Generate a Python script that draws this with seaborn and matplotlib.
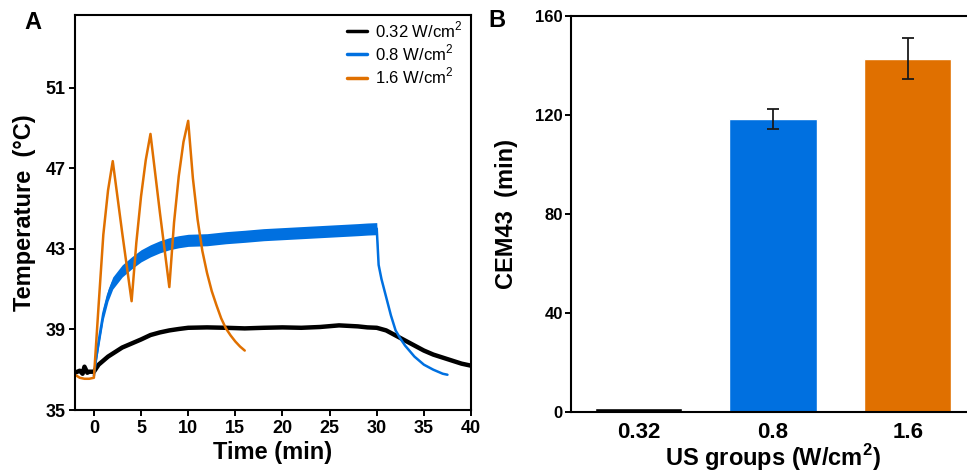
import matplotlib
matplotlib.use('Agg')
from matplotlib import pyplot as plt
import seaborn as sns
import pandas as pd
import numpy as np

# ---- panel A: temperature traces ----
black_t = [-2, -1.5, -1.2, -1, -0.7, -0.5, 0, 0.5, 1, 1.5, 2, 3, 4, 5, 6, 7, 8, 9, 10, 12,
           14, 16, 18, 20, 22, 24, 26, 28, 29, 30, 31, 32, 33, 34, 35, 36, 37, 38, 39, 40]
black_T = [36.85, 36.95, 36.8, 37.15, 36.85, 36.9, 36.9, 37.25, 37.45, 37.65, 37.8, 38.1, 38.3,
           38.5, 38.72, 38.85, 38.95, 39.02, 39.08, 39.1, 39.08, 39.05, 39.08, 39.1, 39.08,
           39.12, 39.2, 39.15, 39.1, 39.08, 38.95, 38.7, 38.45, 38.2, 37.95, 37.75, 37.6,
           37.45, 37.3, 37.2]

blue_t = [0, 0.25, 0.5, 1, 1.5, 2, 3, 4, 5, 6, 7, 8, 9, 10, 12, 14, 16, 18, 20, 22, 24, 26,
          28, 29, 30, 30.2, 30.5, 31, 31.5, 32, 32.5, 33, 34, 35, 36, 37, 37.5]
blue_T = [36.7, 37.6, 38.4, 39.8, 40.7, 41.3, 41.9, 42.3, 42.65, 42.9, 43.1, 43.25, 43.35,
          43.42, 43.45, 43.55, 43.62, 43.7, 43.75, 43.8, 43.85, 43.9, 43.95, 43.98, 44.0,
          42.2, 41.5, 40.6, 39.7, 38.95, 38.55, 38.2, 37.65, 37.25, 37.0, 36.8, 36.75]
# half-width of the noisy band while the transducer is on
blue_noise = [0, 0.2, 0.3, 0.3, 0.3, 0.3, 0.3, 0.3, 0.3, 0.3, 0.3, 0.3, 0.3, 0.3, 0.3, 0.3,
              0.3, 0.3, 0.3, 0.3, 0.3, 0.3, 0.3, 0.3, 0.3, 0, 0, 0, 0, 0, 0, 0, 0, 0, 0, 0, 0]

orange_t = [-2, -1.5, -1, -0.5, 0, 0.5, 1, 1.5, 2, 3, 4, 4.5, 5, 5.5, 6, 7, 8, 8.5, 9, 9.5,
            10, 10.5, 11, 11.5, 12, 12.5, 13, 13.5, 14, 14.5, 15, 15.5, 16]
orange_T = [36.75, 36.6, 36.55, 36.55, 36.6, 40.2, 43.7, 45.9, 47.35, 43.8, 40.4, 43.3, 45.6,
            47.4, 48.7, 44.8, 41.1, 44.3, 46.6, 48.3, 49.35, 46.5, 44.45, 42.9, 41.8, 40.9,
            40.2, 39.55, 39.05, 38.7, 38.4, 38.15, 37.95]

series_labels = ['0.32 W/cm$^2$', '0.8 W/cm$^2$', '1.6 W/cm$^2$']

# ---- panel B: CEM43 ----
groups = ['0.32', '0.8', '1.6']
cem43 = [1.5, 118.3, 142.8]
cem43_err = [0, 4.0, 8.4]

colors = ['#000000', '#0070E0', '#E07000']

sns.set_theme(style='ticks')
plt.rcParams['font.family'] = ['Liberation Sans', 'DejaVu Sans']
plt.rcParams['mathtext.fontset'] = 'custom'
plt.rcParams['mathtext.rm'] = 'Liberation Sans'
plt.rcParams['mathtext.bf'] = 'Liberation Sans:bold'
for k in ['text.color', 'axes.labelcolor', 'xtick.color', 'ytick.color', 'axes.edgecolor']:
    plt.rcParams[k] = 'black'

fig = plt.figure(figsize=(9.67, 4.74), dpi=100)
axA = fig.add_axes([0.0776, 0.135, 0.4095, 0.8333])
axB = fig.add_axes([0.5905, 0.1308, 0.4178, 0.8354])

# panel A
sns.lineplot(x=black_t, y=black_T, ax=axA, color=colors[0], lw=3.2, label=series_labels[0],
             sort=False, estimator=None)
bt = np.array(blue_t)
bT = np.array(blue_T)
bn = np.array(blue_noise)
axA.fill_between(bt, bT - bn, bT + bn, color=colors[1], lw=0)
sns.lineplot(x=blue_t, y=blue_T, ax=axA, color=colors[1], lw=1.8, label=series_labels[1],
             sort=False, estimator=None)
sns.lineplot(x=orange_t, y=orange_T, ax=axA, color=colors[2], lw=1.8, label=series_labels[2],
             sort=False, estimator=None)

axA.set_xlim(-2, 40)
axA.set_ylim(35, 54.6)
axA.set_xticks(range(0, 41, 5))
axA.set_yticks([35, 39, 43, 47, 51])
axA.tick_params(direction='out', length=4, width=1.4, labelsize=13, pad=3)
for lab in axA.get_xticklabels() + axA.get_yticklabels():
    lab.set_fontweight('bold')
axA.set_xlabel('Time (min)', fontsize=17, fontweight='bold', labelpad=3)
axA.set_ylabel('Temperature  (°C)', fontsize=17, fontweight='bold', labelpad=7)
for s in axA.spines.values():
    s.set_linewidth(1.5)

leg = axA.legend(loc='upper right', bbox_to_anchor=(1.0, 1.01), frameon=False, fontsize=12,
                 handlelength=1.2, handletextpad=0.5, labelspacing=0.16, borderaxespad=0.1)
for h in leg.get_lines():
    h.set_linewidth(2.5)

# panel B
df_bar = pd.DataFrame({'group': groups, 'cem43': cem43})
sns.barplot(data=df_bar, x='group', y='cem43', hue='group', palette=colors, legend=False,
            errorbar=None, width=0.65, saturation=1, ax=axB)
centers = [p.get_x() + p.get_width() / 2 for p in axB.patches]
keep = [i for i, e in enumerate(cem43_err) if e > 0]
axB.errorbar([centers[i] for i in keep], [cem43[i] for i in keep],
             yerr=[cem43_err[i] for i in keep], fmt='none', ecolor='#1a1a1a',
             elinewidth=1.3, capsize=4, capthick=1.3)
axB.set_xlim(-0.5, 2.5)
axB.set_ylim(0, 160)
axB.set_yticks([0, 40, 80, 120, 160])
axB.tick_params(axis='y', direction='out', length=4, width=1.4, labelsize=12, pad=2)
axB.tick_params(axis='x', length=0, labelsize=16, pad=7.5)
for lab in axB.get_xticklabels() + axB.get_yticklabels():
    lab.set_fontweight('bold')
axB.set_xlabel(r'US groups (W/cm$^{\mathbf{2}}$)', fontsize=17, fontweight='bold', labelpad=-1)
axB.set_ylabel('CEM43  (min)', fontsize=17, fontweight='bold', labelpad=12)
for s in axB.spines.values():
    s.set_linewidth(1.5)

fig.text(0.034, 0.953, 'A', fontsize=17, fontweight='bold', ha='center', va='center')
fig.text(0.514, 0.957, 'B', fontsize=17, fontweight='bold', ha='center', va='center')

fig.savefig('out.png', dpi=100)
